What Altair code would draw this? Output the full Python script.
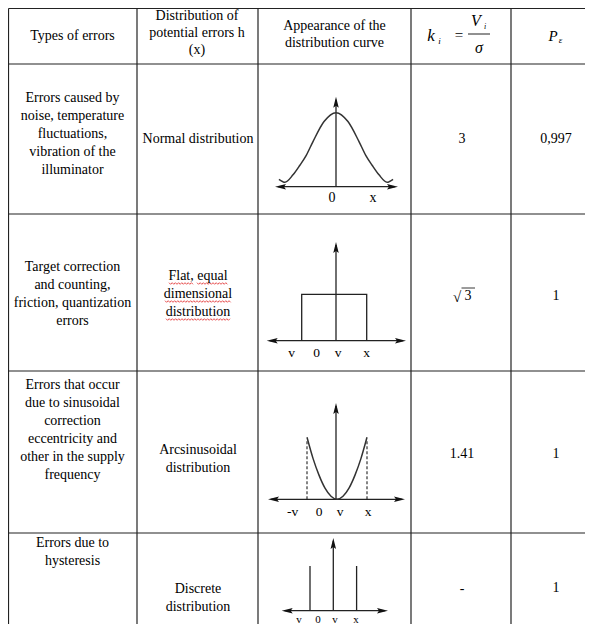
import altair as alt
import pandas as pd

# ---------------- table content ----------------
header_types = ["Types of errors"]
header_dist = ["Distribution of", "potential errors h", "(x)"]
header_curve = ["Appearance of the", "distribution curve"]

error_types = [
    ["Errors caused by", "noise, temperature", "fluctuations,", "vibration of the", "illuminator"],
    ["Target correction", "and counting,", "friction, quantization", "errors"],
    ["Errors that occur", "due to sinusoidal", "correction", "eccentricity and",
     "other in the supply", "frequency"],
    ["Errors due to", "hysteresis"],
]
distributions = [
    ["Normal distribution"],
    ["Flat, equal", "dimensional", "distribution"],
    ["Arcsinusoidal", "distribution"],
    ["Discrete", "distribution"],
]
k_values = ["3", "√3", "1.41", "-"]
p_values = ["0,997", "1", "1", "1"]

# ---------------- curve shapes (normalised units) ----------------
normal_u = [-2.48, -2.22, -1.87, -1.57, -1.3, -1.0, -0.52, 0, 0.52, 1.0, 1.3, 1.57, 1.87, 2.22, 2.48]
normal_h = [0.10, 0.06, 0.16, 0.29, 0.42, 0.61, 0.88, 1.0, 0.88, 0.61, 0.42, 0.29, 0.16, 0.06, 0.10]
flat_u = [-1, -1, 1, 1]
flat_h = [0, 1, 1, 0]
arcsin_u = [-1, -0.8, -0.6, -0.4, -0.2, 0, 0.2, 0.4, 0.6, 0.8, 1]
arcsin_h = [1.0, 0.66, 0.39, 0.18, 0.05, 0, 0.05, 0.18, 0.39, 0.66, 1.0]
discrete_u = [-1, 1]
discrete_h = [1, 1]

diagram_labels = [
    ["0", "x"],
    ["v", "0", "v", "x"],
    ["-v", "0", "v", "x"],
    ["v", "0", "v", "x"],
]

# ---------------- layout (page pixels) ----------------
COL_LINES = [8.5, 137, 258, 411, 511]
ROW_LINES = [8.5, 64, 214, 371, 533]
RIGHT, BOTTOM = 585, 624
COL_X = [72.5, 198, None, 462, 556]
LH = 18
FS = 14
col1_y = [134, 294, 430, 552]
col2_y = [139, 294, 459, 598]
col4_y = [139, 296, 454, 589]
col5_y = [139, 296, 454, 588]

DIAG = [  # centre x, baseline y, x unit, y unit, axis x0, axis x1, vertical axis x, vertical top
    dict(cx=336, base=186.7, sx=23, sy=74, ax0=275, ax1=398, vx=336, top=96.7),
    dict(cx=334.2, base=340.7, sx=32.5, sy=46.4, ax0=266.7, ax1=406, vx=336, top=242),
    dict(cx=337, base=499.3, sx=30, sy=62, ax0=268, ax1=405, vx=336, top=403),
    dict(cx=333.3, base=610.7, sx=23.3, sy=44.7, ax0=281.7, ax1=388, vx=333.3, top=538),
]
LABEL_POS = [
    ([332, 373], 198, 14),
    ([291.7, 316.7, 338, 366.7], 352.7, 13.5),
    ([292.7, 319, 340, 368], 511.7, 13.5),
    ([299, 318, 335, 356], 620, 11),
]

FONT = "Liberation Serif, Times New Roman, DejaVu Serif, serif"
INK = "#000000"

X = alt.X("x:Q", scale=alt.Scale(domain=[8, 585], nice=False, zero=False), axis=None)
Y = alt.Y("y:Q", scale=alt.Scale(domain=[8, 624], nice=False, zero=False, reverse=True), axis=None)


def block(lines, cx, cy, size=FS, lh=LH):
    n = len(lines)
    return [dict(text=t, x=cx, y=cy + (i - (n - 1) / 2) * lh, size=size) for i, t in enumerate(lines)]


# ---- text (upright) ----
texts = []
texts += block(header_types, COL_X[0], 36)
texts += block(header_dist, 197, 33, lh=17)
texts += block(header_curve, 334.5, 34, lh=17)
for r in range(4):
    texts += block(error_types[r], COL_X[0], col1_y[r])
    texts += block(distributions[r], COL_X[1], col2_y[r])
    kv = k_values[r]
    if kv.startswith("√"):
        texts.append(dict(text="√", x=457, y=col4_y[r] + 1, size=15))
        texts.append(dict(text=kv[1:], x=468, y=col4_y[r], size=FS))
    else:
        texts.append(dict(text=kv, x=COL_X[3], y=col4_y[r], size=FS))
    texts.append(dict(text=p_values[r], x=COL_X[4], y=col5_y[r], size=FS))
texts.append(dict(text="=", x=459, y=35, size=15))
for d, labs in enumerate(diagram_labels):
    xs, ly, fs = LABEL_POS[d]
    for lab, lx in zip(labs, xs):
        texts.append(dict(text=lab, x=lx, y=ly, size=fs))
text_df = pd.DataFrame(texts)

# ---- italic formula text ----
ital_df = pd.DataFrame([
    dict(text="k", x=431, y=36, size=17),
    dict(text="i", x=439.5, y=41, size=9),
    dict(text="V", x=476, y=21, size=16),
    dict(text="i", x=485, y=27, size=8),
    dict(text="σ", x=479, y=48, size=16),
    dict(text="P", x=553, y=36, size=15),
    dict(text="ε", x=560.5, y=40, size=9),
])

# ---- table grid and straight lines ----
rules = []
for yv in ROW_LINES:
    rules.append(dict(x=8.5, x2=RIGHT, y=yv, y2=yv, w=1.2))
for xv in COL_LINES:
    rules.append(dict(x=xv, x2=xv, y=8.5, y2=BOTTOM, w=1.2))
rules.append(dict(x=468, x2=490, y=34, y2=34, w=1.0))            # fraction bar
rules.append(dict(x=461.5, x2=475, y=288, y2=288, w=0.9))        # radical bar
for g in DIAG:
    rules.append(dict(x=g["ax0"] + 3, x2=g["ax1"] - 3, y=g["base"], y2=g["base"], w=1.3))
    rules.append(dict(x=g["vx"], x2=g["vx"], y=g["base"], y2=g["top"] + 3, w=1.3))
# discrete spikes
g = DIAG[3]
for u, h in zip(discrete_u, discrete_h):
    px = g["cx"] + u * g["sx"]
    rules.append(dict(x=px, x2=px, y=g["base"], y2=g["base"] - h * g["sy"], w=1.3))
rule_df = pd.DataFrame(rules)

# dashed guides of the arcsine curve
g = DIAG[2]
dash_df = pd.DataFrame([
    dict(x=g["cx"] + u * g["sx"], x2=g["cx"] + u * g["sx"], y=g["base"], y2=g["base"] - 0.97 * g["sy"])
    for u in (arcsin_u[0], arcsin_u[-1])
])


def curve(us, hs, g, name):
    return pd.DataFrame([dict(x=g["cx"] + u * g["sx"], y=g["base"] - h * g["sy"], c=name, o=i)
                         for i, (u, h) in enumerate(zip(us, hs))])


normal_df = curve(normal_u, normal_h, DIAG[0], "normal")
flat_df = curve(flat_u, flat_h, DIAG[1], "flat")
arc_df = curve(arcsin_u, arcsin_h, DIAG[2], "arcsin")

# ---- arrowheads ----
arrows = []
for g in DIAG:
    arrows += [dict(x=g["ax0"], y=g["base"], d="left"),
               dict(x=g["ax1"], y=g["base"], d="right"),
               dict(x=g["vx"], y=g["top"], d="up")]
arrow_df = pd.DataFrame(arrows)
P_LEFT = "M0,0L2.2,-0.55L1.8,0L2.2,0.55Z"
P_RIGHT = "M0,0L-2.2,-0.55L-1.8,0L-2.2,0.55Z"
P_UP = "M0,0L-0.55,2.2L0,1.8L0.55,2.2Z"

# ---- red spell-check underlines ----
waves = []
for k, (x0, x1, yy) in enumerate([(169, 194, 283.5), (197, 228, 283.5), (165, 232, 301.5), (166, 230, 319.5)]):
    i = 0
    xx = x0
    while xx <= x1:
        waves.append(dict(x=xx, y=yy + (0.8 if i % 2 else -0.8), s=k, o=i))
        xx += 1.6
        i += 1
wave_df = pd.DataFrame(waves)

# ---------------- layers ----------------
grid = alt.Chart(rule_df).mark_rule(color="#222222").encode(
    x=X, x2="x2:Q", y=Y, y2="y2:Q", strokeWidth=alt.StrokeWidth("w:Q", scale=None))
dashes = alt.Chart(dash_df).mark_rule(color="#222222", strokeWidth=1.1, strokeDash=[3, 2]).encode(
    x=X, x2="x2:Q", y=Y, y2="y2:Q")
normal = alt.Chart(normal_df).mark_line(color="#333333", strokeWidth=1.5, interpolate="monotone").encode(
    x=X, y=Y, order="o:Q")
flat = alt.Chart(flat_df).mark_line(color="#222222", strokeWidth=1.3).encode(
    x=X, y=Y, order="o:Q")
arc = alt.Chart(arc_df).mark_line(color="#333333", strokeWidth=1.5, interpolate="monotone").encode(
    x=X, y=Y, order="o:Q")
heads = alt.Chart(arrow_df).mark_point(filled=True, opacity=1, size=100, color="#111111", strokeWidth=0).encode(
    x=X, y=Y,
    shape=alt.Shape("d:N", scale=alt.Scale(domain=["left", "right", "up"], range=[P_LEFT, P_RIGHT, P_UP]),
                    legend=None))
wave = alt.Chart(wave_df).mark_line(color="#e02424", strokeWidth=0.8).encode(
    x=X, y=Y, detail="s:N", order="o:Q")
txt = alt.Chart(text_df).mark_text(font=FONT, color=INK, align="center", baseline="middle").encode(
    x=X, y=Y, text="text:N", size=alt.Size("size:Q", scale=None))
ital = alt.Chart(ital_df).mark_text(font=FONT, color=INK, fontStyle="italic", align="center",
                                     baseline="middle").encode(
    x=X, y=Y, text="text:N", size=alt.Size("size:Q", scale=None))

chart = alt.layer(grid, dashes, normal, flat, arc, heads, wave, txt, ital).properties(
    width=577, height=616, padding=0,
    autosize=alt.AutoSizeParams(type="none"),
    background="white",
).configure_view(stroke=None)

chart.save("out.html", embed_options={"renderer": "svg", "actions": False})
